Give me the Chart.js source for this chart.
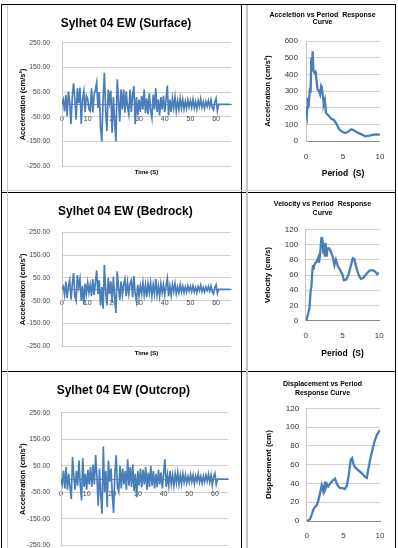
<!DOCTYPE html>
<html>
<head>
<meta charset="utf-8">
<script src="https://cdn.jsdelivr.net/npm/chart.js@4.4.1/dist/chart.umd.min.js"></script>
<style>
html, body { margin: 0; padding: 0; background: #fff; }
body { width: 398px; height: 548px; position: relative; overflow: hidden; }
.cell { position: absolute; }
.rule { position: absolute; z-index: 5; }
</style>
</head>
<body>
<div class="cell" style="left:8px;top:5px;width:232px;height:185px"><canvas id="surfaceChart"></canvas></div>
<div class="cell" style="left:8px;top:193px;width:232px;height:177px"><canvas id="bedrockChart"></canvas></div>
<div class="cell" style="left:8px;top:373px;width:232px;height:190px"><canvas id="outcropChart"></canvas></div>
<div class="cell" style="left:249px;top:5px;width:146px;height:185px"><canvas id="accSpecChart"></canvas></div>
<div class="cell" style="left:249px;top:193px;width:146px;height:177px"><canvas id="velSpecChart"></canvas></div>
<div class="cell" style="left:249px;top:373px;width:146px;height:190px"><canvas id="dispSpecChart"></canvas></div>

<!-- table rules -->
<div class="rule" style="left:1px;top:4px;width:395px;height:1px;background:#000"></div>
<div class="rule" style="left:1px;top:4px;width:1px;height:544px;background:#000"></div>
<div class="rule" style="left:395px;top:4px;width:1px;height:544px;background:#000"></div>
<div class="rule" style="left:241px;top:4px;width:1px;height:544px;background:#000"></div>
<div class="rule" style="left:1px;top:192px;width:395px;height:1px;background:#000"></div>
<div class="rule" style="left:1px;top:371px;width:395px;height:1px;background:#000"></div>
<!-- chart frames -->
<div class="rule" style="left:7px;top:5px;width:1px;height:543px;background:#c8c8c8"></div>
<div class="rule" style="left:246px;top:5px;width:2px;height:543px;background:#c4c4c4"></div>
<div class="rule" style="left:2px;top:190px;width:393px;height:1px;background:#d4d4d4"></div>

<script>
// Time histories, one value every 0.5 s from t = 0
const TIME_STEP = 0.5;
const timeTicks = [0, 10, 20, 30, 40, 50, 60];

const surfaceAcc = [
    0, 19, -28, 39, -48, 53, 10, -80, 30, 86,
    20, -62, 66, 5, 68, -79, 20, 53, -30, 35,
    23, -20, -27, 66, -32, 40, 60, 89, -14, 50,
    -93, -150, 21, 128, -27, -108, 61, 10, 55, -115,
    30, -70, -150, 102, 20, -69, 60, -20, 60, -33,
    53, -10, -40, 60, -30, 40, 74, -80, 30, -45,
    20, -30, 35, -20, 60, -35, 25, -40, 45, -25,
    -55, 40, -20, 66, -30, 20, -45, 30, -20, 35,
    -30, 20, 77, -45, 20, -30, 25, -15, 30, -25,
    15, -20, 25, -15, 20, -18, 12, -15, 18, -10,
    15, -12, 20, -15, 10, -18, 15, -8, 22, -12,
    10, -15, 12, -8, 15, -10, 18, -12, -22, 10,
    25, -25, 0, 0, 0, 0, 0, 0, 0, 0,
    0, 0
];

const bedrockAcc = [
    0, 12, -25, 34, -38, 15, 40, -45, 20, 71,
    -30, -50, 62, 10, 45, -50, 15, -68, 25, -20,
    30, -15, 20, -30, 45, -25, 30, 82, -20, 40,
    -71, 10, -85, 107, -10, -71, 50, -20, 35, -60,
    55, -30, -104, 79, 10, -47, 35, -25, 20, 45,
    -30, 30, -20, 25, 40, -35, 58, -20, -52, 20,
    -30, 15, -20, 30, -25, 20, -35, 25, -15, 30,
    -30, 20, -20, 45, -25, 15, -30, 25, -15, 20,
    -25, 15, 48, -30, 15, -25, 20, -10, 25, -20,
    10, -15, 20, -12, 15, -15, 10, -12, 15, -8,
    12, -10, 15, -12, 8, -15, 12, -6, 18, -10,
    8, -12, 10, -6, 12, -8, 15, -10, -20, 8,
    20, -18, 0, 0, 0, 0, 0, 0, 0, 0,
    0, 0
];

const outcropAcc = [
    0, -20, 32, -35, 45, -40, 20, -30, -75, 83,
    10, -40, 30, -25, 70, -20, -80, 78, -30, 20,
    -40, 35, -20, 45, -30, 55, -20, 91, 10, -100,
    40, -60, -130, 123, -50, 30, -105, 70, -10, 40,
    -60, -127, 20, 90, -30, -47, 50, -35, 40, -20,
    30, -40, 75, -25, 45, -30, 55, -45, 20, -68,
    30, -25, 40, -30, 35, -20, 45, -40, 25, -30,
    50, -25, 30, -35, 20, -30, 35, -20, 25, -35,
    20, 75, -30, 15, -25, 30, -20, 15, -25, 20,
    -15, 25, -20, 15, -18, 20, -12, 15, -15, 10,
    -12, 18, -10, 15, -18, 12, -8, 20, -12, 10,
    -15, 12, -10, 15, -8, 18, -12, 15, -24, 10,
    22, -20, 0, 0, 0, 0, 0, 0, 0, 0,
    0, 0
];

// Response spectra
const accPeriod = [0.02, 0.1, 0.18, 0.25, 0.35, 0.45, 0.55, 0.62, 0.72, 0.8, 0.9, 1.0, 1.15, 1.25, 1.35, 1.55, 1.75, 1.9, 2.05, 2.15, 2.3, 2.4, 2.55, 2.7, 3.0, 3.4, 3.8, 4.2, 4.5, 4.9, 5.3, 5.7, 6.1, 6.4, 7.0, 7.5, 8.0, 8.6, 9.2, 9.6, 10];
const accSpec = [165, 150, 200, 260, 205, 270, 320, 290, 500, 420, 538, 420, 410, 415, 390, 310, 300, 280, 330, 320, 260, 220, 245, 170, 155, 135, 125, 95, 70, 55, 48, 55, 70, 65, 50, 40, 28, 32, 38, 40, 38];

const velPeriod = [0, 0.1, 0.36, 0.5, 0.68, 0.78, 0.9, 1.0, 1.05, 1.15, 1.27, 1.5, 1.72, 1.8, 1.95, 2.13, 2.2, 2.3, 2.4, 2.5, 2.6, 2.7, 2.85, 2.95, 3.2, 3.4, 3.7, 3.9, 4.1, 4.35, 4.66, 5.0, 5.2, 5.5, 5.8, 6.1, 6.4, 6.6, 6.9, 7.25, 7.5, 7.8, 8.3, 8.7, 9.2, 9.5, 9.7, 10];
const velSpec = [0, 1, 10, 16, 40, 45, 64, 73, 67, 73, 75, 78, 83, 76, 86, 108, 110, 104, 88, 102, 84, 102, 84, 95, 95, 91, 83, 73, 80, 72, 67, 60, 53, 54, 60, 71, 82, 81, 69, 59, 55, 56, 62, 66, 66, 64, 61, 63];

const dispPeriod = [0, 0.3, 0.45, 0.7, 0.9, 1.14, 1.36, 1.6, 1.8, 2.05, 2.2, 2.27, 2.36, 2.5, 2.6, 2.8, 2.95, 3.2, 3.55, 3.86, 4.1, 4.3, 4.55, 4.9, 5.2, 5.45, 5.7, 6.0, 6.2, 6.36, 6.6, 7.05, 7.5, 7.95, 8.2, 8.64, 9.0, 9.3, 9.6, 10];
const dispSpec = [0, 1, 2, 7, 12, 15, 17, 22, 29, 38, 33, 38, 29, 42, 35, 39, 37, 40, 43, 45, 40, 37, 35, 35, 34, 37, 47, 65, 67, 61, 57, 54, 51, 47, 46, 65, 77, 86, 92, 97];

const BLUE = '#4a7ebb';
const GRID = '#d0d0d0';
Chart.defaults.font.family = '"Liberation Sans", Arial, sans-serif';
Chart.defaults.animation = false;

function toPoints(xs, ys) {
    return ys.map((y, i) => ({ x: xs[i], y: y }));
}

function timeAxis(n) {
    return Array.from({ length: n }, (_, i) => i * TIME_STEP);
}

// Left column: acceleration time histories, x axis crossing at zero
function historyChart(id, title, values, o) {
    return new Chart(document.getElementById(id), {
        type: 'line',
        data: {
            datasets: [{
                data: toPoints(timeAxis(values.length), values),
                borderColor: BLUE,
                borderWidth: 1.7,
                pointRadius: 0,
                tension: 0
            }]
        },
        options: {
            responsive: true,
            maintainAspectRatio: false,
            layout: { padding: { left: o.padLeft, right: o.padRight, top: 0, bottom: 0 } },
            plugins: {
                legend: { display: false },
                tooltip: { enabled: false },
                title: {
                    display: true,
                    text: title,
                    color: '#000',
                    font: { size: 12, weight: 'bold' },
                    padding: { top: o.titlePad[0], bottom: o.titlePad[1] }
                },
                subtitle: {
                    display: true,
                    position: 'bottom',
                    fullSize: false,
                    text: 'Time (S)',
                    color: '#000',
                    font: { size: 6, weight: 'bold' },
                    padding: { top: o.subPad[0], bottom: o.subPad[1] }
                }
            },
            scales: {
                x: {
                    type: 'linear',
                    position: { y: 0 },
                    min: 0,
                    max: o.xMax,
                    afterBuildTicks: s => { s.ticks = timeTicks.map(v => ({ value: v })); },
                    ticks: { padding: o.xTickPad, color: '#444', font: { size: 7 }, maxRotation: 0, autoSkip: false },
                    grid: { display: false, drawTicks: false },
                    border: { color: '#8a8a8a' }
                },
                y: {
                    min: -250,
                    max: 250,
                    afterFit: s => { s.width = o.yWidth; },
                    ticks: { stepSize: 100, padding: o.yTickPad, color: '#444', font: { size: 6.8 }, callback: v => v.toFixed(2) },
                    grid: { color: GRID, drawTicks: false },
                    border: { color: '#c4c4c4' },
                    title: {
                        display: true,
                        text: 'Acceleration (cm/s²)',
                        color: '#000',
                        font: { size: 7.5, weight: 'bold' },
                        padding: { top: o.yTitlePad, bottom: 0 }
                    }
                }
            }
        }
    });
}

// Right column: response spectra against period
function spectrumChart(id, titleLines, yTitle, periods, values, o) {
    return new Chart(document.getElementById(id), {
        type: 'line',
        data: {
            datasets: [{
                data: toPoints(periods, values),
                borderColor: BLUE,
                borderWidth: 2.3,
                pointRadius: 0,
                tension: 0
            }]
        },
        options: {
            responsive: true,
            maintainAspectRatio: false,
            layout: { padding: { left: o.padLeft, right: o.padRight, top: 0, bottom: 0 } },
            plugins: {
                legend: { display: false },
                tooltip: { enabled: false },
                title: {
                    display: true,
                    text: titleLines,
                    color: '#000',
                    font: { size: 7, weight: 'bold', lineHeight: o.titleLine + 'px' },
                    padding: { top: o.titlePad[0], bottom: o.titlePad[1] }
                }
            },
            scales: {
                x: {
                    type: 'linear',
                    min: 0,
                    max: 10,
                    afterFit: s => { s.height = o.xHeight; },
                    ticks: { stepSize: 5, padding: o.xTickPad, color: '#333', font: { size: 8 }, maxRotation: 0 },
                    grid: { display: false, drawTicks: false },
                    border: { color: '#8a8a8a' },
                    title: {
                        display: true,
                        text: 'Period  (S)',
                        color: '#000',
                        font: { size: 8.5, weight: 'bold' },
                        padding: { top: 0, bottom: o.xTitlePad }
                    }
                },
                y: {
                    min: 0,
                    max: o.yMax,
                    afterFit: s => { s.width = o.yWidth; },
                    ticks: { stepSize: o.yStep, padding: o.yTickPad, color: '#333', font: { size: 8 } },
                    grid: { color: GRID, drawTicks: false },
                    border: { color: '#c4c4c4' },
                    title: {
                        display: true,
                        text: yTitle,
                        color: '#000',
                        font: { size: o.yTitleSize, weight: 'bold' },
                        padding: { top: o.yTitlePad, bottom: 0 }
                    }
                }
            }
        }
    });
}

historyChart('surfaceChart', 'Sylhet 04 EW (Surface)', surfaceAcc, {
    padLeft: 13, padRight: 9, yWidth: 41, yTitlePad: -2.5, yTickPad: 12,
    titlePad: [11.8, 11.6], subPad: [3, 13.7], xMax: 65.8, xTickPad: 10.4
});
historyChart('bedrockChart', 'Sylhet 04 EW (Bedrock)', bedrockAcc, {
    padLeft: 11.6, padRight: 9, yWidth: 42.4, yTitlePad: -1.1, yTickPad: 12,
    titlePad: [11.5, 13.4], subPad: [3.8, 12.7], xMax: 65.8, xTickPad: 9.9
});
historyChart('outcropChart', 'Sylhet 04 EW (Outcrop)', outcropAcc, {
    padLeft: 10.6, padRight: 12, yWidth: 42.4, yTitlePad: -0.4, yTickPad: 11,
    titlePad: [10.5, 14.8], subPad: [4, 6.3], xMax: 65.1, xTickPad: 10.7
});

spectrumChart('accSpecChart', ['Acceletion vs Period  Response', 'Curve'], 'Acceleration (cm/s²)', accPeriod, accSpec, {
    padLeft: 16, padRight: 15, yWidth: 41, yTitlePad: -1.5, yTitleSize: 7.5, yTickPad: 8,
    yMax: 600, yStep: 100, titleLine: 7.3, titlePad: [6.35, 15.05],
    xHeight: 49, xTickPad: 10.6, xTitlePad: 10.9
});
spectrumChart('velSpecChart', ['Velocity vs Period  Response', 'Curve'], 'Velocity (cm/s)', velPeriod, velSpec, {
    padLeft: 16.7, padRight: 15.7, yWidth: 40, yTitlePad: -2.5, yTitleSize: 8, yTickPad: 7.5,
    yMax: 120, yStep: 20, titleLine: 9.3, titlePad: [6.35, 11.35],
    xHeight: 49.3, xTickPad: 10.6, xTitlePad: 10.9
});
spectrumChart('dispSpecChart', ['Displacement vs Period', 'Response Curve'], 'Dispacement (cm)', dispPeriod, dispSpec, {
    padLeft: 16, padRight: 15, yWidth: 41.7, yTitlePad: -0.8, yTitleSize: 8, yTickPad: 7.5,
    yMax: 120, yStep: 20, titleLine: 8.7, titlePad: [6.65, 11.25],
    xHeight: 42, xTickPad: 10.3, xTitlePad: 3.9
});
</script>
</body>
</html>
